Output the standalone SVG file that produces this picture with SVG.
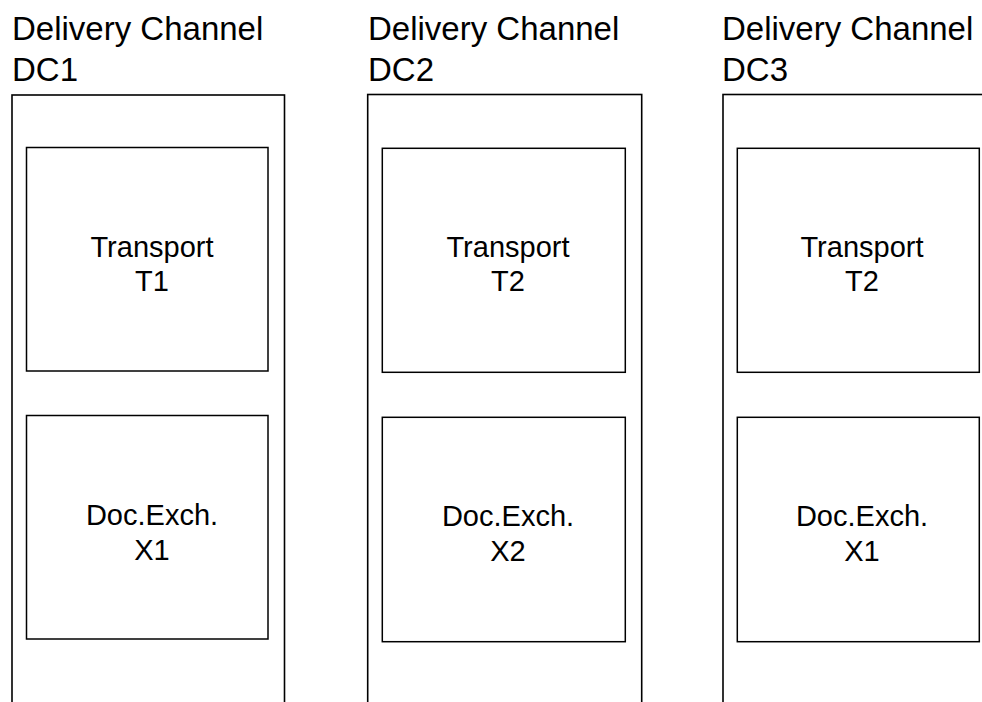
<svg xmlns="http://www.w3.org/2000/svg" width="982" height="702" viewBox="0 0 982 702">
<style>
.bg{fill:#fff}
.outer{fill:none;stroke:#000;stroke-width:1.6}
.inner{fill:#fff;stroke:#000;stroke-width:1.5}
.title{font-family:"Liberation Sans",Arial,sans-serif;font-size:33px;fill:#000}
.lbl{font-family:"Liberation Sans",Arial,sans-serif;font-size:29px;fill:#000;text-anchor:middle}
</style>
<rect class="bg" x="0" y="0" width="982" height="702"/>
<g id="DC1">
  <text class="title" x="12" y="39.5">Delivery Channel</text>
  <text class="title" x="12" y="80.5">DC1</text>
  <rect class="outer" x="12" y="95" width="272.5" height="640"/>
</g>
<g id="T1">
  <rect class="inner" x="26.5" y="147.5" width="241.5" height="223.5"/>
  <text class="lbl" x="152" y="257">Transport</text>
  <text class="lbl" x="152" y="291">T1</text>
</g>
<g id="X1a">
  <rect class="inner" x="26.5" y="415.5" width="241.5" height="223.5"/>
  <text class="lbl" x="152" y="525">Doc.Exch.</text>
  <text class="lbl" x="152" y="560">X1</text>
</g>
<g id="DC2">
  <text class="title" x="368" y="39.5">Delivery Channel</text>
  <text class="title" x="368" y="80.5">DC2</text>
  <rect class="outer" x="367.7" y="94.5" width="274" height="640"/>
</g>
<g id="T2a">
  <rect class="inner" x="382.3" y="148.3" width="243" height="224"/>
  <text class="lbl" x="508" y="257">Transport</text>
  <text class="lbl" x="508" y="291">T2</text>
</g>
<g id="X2">
  <rect class="inner" x="382.3" y="417.3" width="243" height="224.4"/>
  <text class="lbl" x="508" y="526">Doc.Exch.</text>
  <text class="lbl" x="508" y="561">X2</text>
</g>
<g id="DC3">
  <text class="title" x="722" y="39.5">Delivery Channel</text>
  <text class="title" x="722" y="80.5">DC3</text>
  <rect class="outer" x="723" y="94.5" width="300" height="640"/>
</g>
<g id="T2b">
  <rect class="inner" x="737.3" y="148.3" width="242" height="224"/>
  <text class="lbl" x="862" y="257">Transport</text>
  <text class="lbl" x="862" y="291">T2</text>
</g>
<g id="X1b">
  <rect class="inner" x="737.3" y="417.3" width="242" height="224.4"/>
  <text class="lbl" x="862" y="526">Doc.Exch.</text>
  <text class="lbl" x="862" y="561">X1</text>
</g>
<g id="connectors"></g>
</svg>
